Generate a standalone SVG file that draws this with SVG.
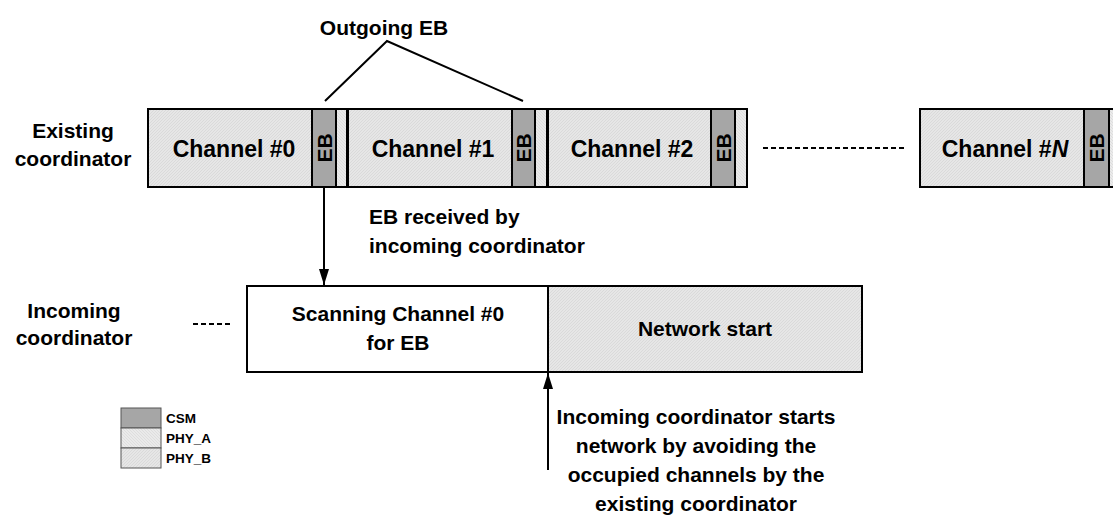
<svg xmlns="http://www.w3.org/2000/svg" width="1113" height="524" viewBox="0 0 1113 524">
  <defs>
    <pattern id="phyB" width="3" height="3" patternUnits="userSpaceOnUse">
      <rect width="3" height="3" fill="#e6e6e6"/>
      <path d="M0 3 L3 0" stroke="#d6d6d6" stroke-width="0.7"/>
    </pattern>
    <pattern id="phyA" width="3" height="3" patternUnits="userSpaceOnUse">
      <rect width="3" height="3" fill="#eaeaea"/>
      <path d="M0 0 L3 3" stroke="#d9d9d9" stroke-width="0.7"/>
    </pattern>
    <marker id="arr" viewBox="0 0 16 10" refX="16" refY="5" markerWidth="16" markerHeight="10" markerUnits="userSpaceOnUse" orient="auto">
      <path d="M0 0 L16 5 L0 10 Z" fill="#000"/>
    </marker>
  </defs>
  <style>
    text { font-family: "Liberation Sans", Arial, sans-serif; font-weight: bold; fill: #000; }
    .ch { fill: url(#phyB); stroke: #000; stroke-width: 2; }
    .eb { fill: #a6a6a6; stroke: #000; stroke-width: 2; }
    .st { fill: url(#phyA); stroke: #000; stroke-width: 2; }
    .lbl { font-size: 21px; text-anchor: middle; }
    .lft { font-size: 21px; text-anchor: start; }
    .chl { font-size: 23px; text-anchor: middle; }
    .ebt { font-size: 21px; text-anchor: middle; }
    .leg { font-size: 13.5px; }
    .ln { stroke: #000; stroke-width: 2; fill: none; }
  </style>

  <g id="label-existing">
    <text class="lbl" x="73" y="138">Existing</text>
    <text class="lbl" x="73" y="166">coordinator</text>
  </g>
  <g id="label-incoming">
    <text class="lbl" x="74" y="318">Incoming</text>
    <text class="lbl" x="74" y="345">coordinator</text>
  </g>

  <g id="channel0">
    <rect class="ch" x="148" y="109" width="164" height="78"/>
    <rect class="eb" x="312" y="109" width="24" height="78"/>
    <rect class="st" x="336" y="109" width="11" height="78"/>
    <text class="chl" x="234" y="157">Channel #0</text>
    <text class="ebt" transform="translate(331.5,148) rotate(-90)" x="0" y="0">EB</text>
  </g>
  <g id="channel1">
    <rect class="ch" x="348" y="109" width="164" height="78"/>
    <rect class="eb" x="512" y="109" width="23" height="78"/>
    <rect class="st" x="535" y="109" width="12" height="78"/>
    <text class="chl" x="433" y="157">Channel #1</text>
    <text class="ebt" transform="translate(531,148) rotate(-90)" x="0" y="0">EB</text>
  </g>
  <g id="channel2">
    <rect class="ch" x="548" y="109" width="163" height="78"/>
    <rect class="eb" x="711" y="109" width="24" height="78"/>
    <rect class="st" x="735" y="109" width="12" height="78"/>
    <text class="chl" x="632" y="157">Channel #2</text>
    <text class="ebt" transform="translate(730.5,148) rotate(-90)" x="0" y="0">EB</text>
  </g>
  <g id="channelN">
    <rect class="ch" x="920" y="109" width="164" height="78"/>
    <rect class="eb" x="1084" y="109" width="25" height="78"/>
    <rect class="st" x="1109" y="109" width="14" height="78"/>
    <text class="chl" x="1005" y="157">Channel #<tspan font-style="italic">N</tspan></text>
    <text class="ebt" transform="translate(1104,148) rotate(-90)" x="0" y="0">EB</text>
  </g>

  <g id="outgoing-eb">
    <text class="lbl" x="384" y="35">Outgoing EB</text>
  </g>

  <g id="scanning">
    <rect x="247" y="286" width="301" height="86" fill="#fff" stroke="#000" stroke-width="2"/>
    <text class="lbl" x="398" y="321">Scanning Channel #0</text>
    <text class="lbl" x="398" y="350">for EB</text>
  </g>
  <g id="network-start">
    <rect class="ch" x="548" y="286" width="314" height="86"/>
    <text class="lbl" x="705" y="336">Network start</text>
  </g>

  <g id="eb-received-label">
    <text class="lft" x="369" y="224">EB received by</text>
    <text class="lft" x="369" y="253">incoming coordinator</text>
  </g>

  <g id="network-start-label">
    <text class="lbl" x="696" y="424">Incoming coordinator starts</text>
    <text class="lbl" x="696" y="453">network by avoiding the</text>
    <text class="lbl" x="696" y="482">occupied channels by the</text>
    <text class="lbl" x="696" y="511">existing coordinator</text>
  </g>

  <g id="legend">
    <rect x="121" y="408" width="40" height="20" fill="#a6a6a6" stroke="#555" stroke-width="1"/>
    <rect x="121" y="428" width="40" height="20" fill="url(#phyA)" stroke="#555" stroke-width="1"/>
    <rect x="121" y="448" width="40" height="20" fill="url(#phyB)" stroke="#555" stroke-width="1"/>
    <text class="leg" x="166" y="423">CSM</text>
    <text class="leg" x="166" y="443">PHY_A</text>
    <text class="leg" x="166" y="463">PHY_B</text>
  </g>

  <g id="connectors">
    <polyline class="ln" points="325,101 387,41 523,101"/>
    <line class="ln" x1="324" y1="188" x2="324" y2="285" marker-end="url(#arr)"/>
    <line class="ln" x1="548" y1="470" x2="548" y2="373" marker-end="url(#arr)"/>
    <line x1="763" y1="148" x2="905" y2="148" stroke="#000" stroke-width="2" stroke-dasharray="5,3"/>
    <line x1="193" y1="324" x2="233" y2="324" stroke="#000" stroke-width="2" stroke-dasharray="5,3"/>
  </g>
</svg>
